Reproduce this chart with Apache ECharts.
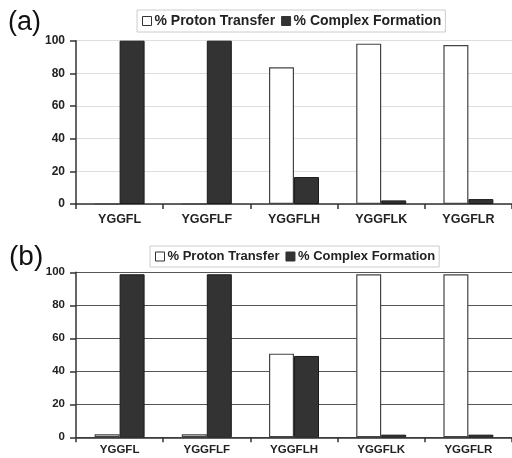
<!DOCTYPE html>
<html>
<head>
<meta charset="utf-8">
<style>html,body{margin:0;padding:0;background:#fff;}#c{width:512px;height:458px;}</style>
<script src="https://cdn.jsdelivr.net/npm/echarts@6/dist/echarts.min.js"></script>
</head>
<body>
<div id="c"></div>
<script>
var categories = ['YGGFL', 'YGGFLF', 'YGGFLH', 'YGGFLK', 'YGGFLR'];
var protonA = [0, 0, 83.7, 98.2, 97.3];
var complexA = [100, 100, 16.5, 2.2, 3.0];
var protonB = [1.8, 1.8, 50.7, 98.8, 98.8];
var complexB = [98.8, 98.8, 49.3, 1.6, 1.6];
var yTicks = [0, 20, 40, 60, 80, 100];
var seriesNames = ['% Proton Transfer', '% Complex Formation'];

var FONT = '"Liberation Sans", Arial, sans-serif';
var chart = echarts.init(document.getElementById('c'), null, {renderer: 'canvas'});

function xAxis(idx, fs, margin) {
  return {
    type: 'category', gridIndex: idx, data: categories,
    axisLine: {show: true, lineStyle: {color: '#333', width: 1.5}},
    axisTick: {show: true, length: 5, lineStyle: {color: '#333', width: 1.5}},
    axisLabel: {color: '#222', fontFamily: FONT, fontWeight: 'bold', fontSize: fs, margin: margin, interval: 0},
    splitLine: {show: false}
  };
}
function yAxis(idx, fs, gridColor) {
  return {
    type: 'value', gridIndex: idx, min: yTicks[0], max: yTicks[yTicks.length - 1], interval: 20,
    axisLine: {show: true, lineStyle: {color: '#333', width: 1.5}},
    axisTick: {show: true, length: 6, lineStyle: {color: '#333', width: 1.5}},
    axisLabel: {color: '#222', fontFamily: FONT, fontWeight: 'bold', fontSize: fs, margin: 11},
    splitLine: {show: true, lineStyle: {color: gridColor, width: 1.2}}
  };
}
function bars(idx, name, data, dark) {
  return {
    type: 'bar', name: name, xAxisIndex: idx, yAxisIndex: idx, data: data,
    barWidth: 25, barGap: '0%',
    itemStyle: dark ? {color: '#333', borderColor: '#1a1a1a', borderWidth: 1}
                    : {color: '#fff', borderColor: '#444', borderWidth: 1.2},
    emphasis: {disabled: true}
  };
}
function legend(top, left, fs, h) {
  return {
    top: top, left: left, orient: 'horizontal',
    data: [
      {name: seriesNames[0], itemStyle: {color: '#fff', borderColor: '#333', borderWidth: 1}},
      {name: seriesNames[1], itemStyle: {color: '#333', borderColor: '#333', borderWidth: 1}}
    ],
    icon: 'rect', itemWidth: 9, itemHeight: 9, itemGap: 6,
    padding: [4, 4, 4, 5], borderColor: '#ccc', borderWidth: 1,
    textStyle: {fontFamily: FONT, fontWeight: 'bold', fontSize: fs, color: '#222', padding: [0, 0, 0, -2]},
    selectedMode: false
  };
}

chart.setOption({
  animation: false,
  backgroundColor: '#fff',
  title: [
    {text: '(a)', left: 3, top: 4, textStyle: {fontFamily: FONT, fontWeight: 'normal', fontSize: 27, color: '#111'}},
    {text: '(b)', left: 4, top: 238, textStyle: {fontFamily: FONT, fontWeight: 'normal', fontSize: 28, color: '#111'}}
  ],
  legend: [legend(10, 137, 14, 22), legend(246, 150, 13, 20)],
  grid: [
    {left: 76, top: 40.7, width: 437.5, height: 163.3},
    {left: 76, top: 272.3, width: 437.5, height: 165}
  ],
  xAxis: [xAxis(0, 12.5, 9), xAxis(1, 11.5, 7)],
  yAxis: [yAxis(0, 12, '#dedede'), yAxis(1, 11.5, '#555')],
  series: [
    bars(0, seriesNames[0], protonA, false),
    bars(0, seriesNames[1], complexA, true),
    bars(1, seriesNames[0], protonB, false),
    bars(1, seriesNames[1], complexB, true)
  ]
});
</script>
</body>
</html>
